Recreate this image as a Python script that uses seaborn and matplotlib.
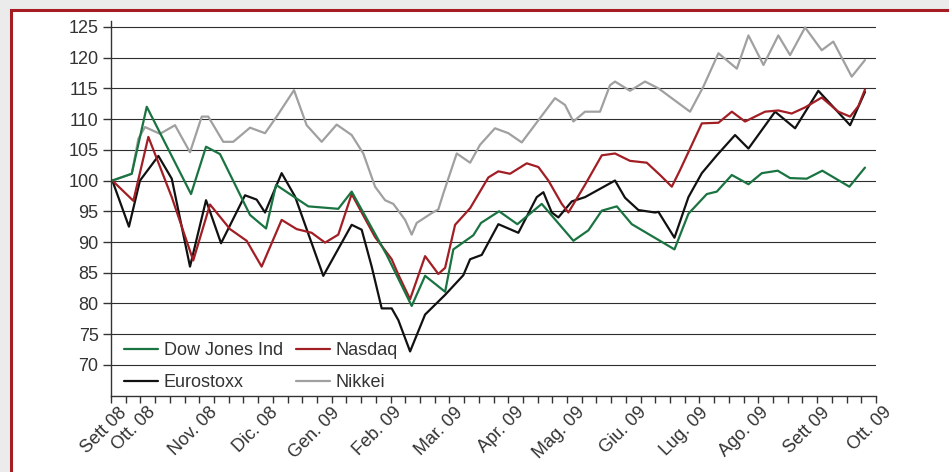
import pandas as pd
import seaborn as sns
import matplotlib.pyplot as plt
from matplotlib.patches import Rectangle
from matplotlib.transforms import ScaledTranslation

# x in weeks from mid-September 2008, values rebased to 100
dj_x = [0.09, 1.41, 2.43, 5.44, 6.46, 7.41, 9.45, 10.54, 11.22, 13.41, 15.45, 16.36, 18.74, 20.44,
        21.35, 22.71, 23.27, 24.63, 25.15, 26.38, 27.62, 29.28, 31.43, 32.45, 33.36, 34.38, 35.40,
        38.30, 39.25, 40.50, 41.18, 42.20, 43.33, 44.24, 45.32, 46.16, 47.29, 48.35, 50.19, 51.25]
dj_y = [100, 101.1, 112.0, 97.8, 105.5, 104.3, 94.4, 92.2, 99.3, 95.8, 95.4, 98.2, 87.9, 79.6,
        84.5, 81.9, 88.8, 91.1, 93.1, 95.0, 92.9, 96.2, 90.2, 91.9, 95.1, 95.8, 92.9,
        88.8, 94.6, 97.8, 98.2, 100.9, 99.4, 101.2, 101.6, 100.4, 100.3, 101.6, 99.0, 102.1]

nq_x = [0.09, 1.52, 2.54, 4.13, 5.59, 6.73, 8.09, 9.22, 10.24, 11.60, 12.62, 13.64, 14.55, 15.45,
        16.36, 17.95, 19.08, 19.53, 20.33, 21.35, 22.25, 22.71, 23.39, 24.41, 25.65, 26.33, 27.12,
        28.26, 29.05, 29.73, 30.64, 31.09, 32.22, 33.36, 34.26, 35.28, 36.42, 37.32, 38.12, 38.68,
        40.16, 41.29, 42.20, 43.10, 44.46, 45.36, 46.27, 47.18, 48.31, 49.44, 50.24, 50.80, 51.25]
nq_y = [100, 96.7, 107.1, 97.3, 87.0, 96.1, 92.1, 90.2, 86.0, 93.6, 92.1, 91.5, 89.9, 91.2,
        97.8, 90.8, 87.2, 84.7, 80.7, 87.7, 84.8, 85.8, 92.8, 95.5, 100.5, 101.5, 101.1,
        102.8, 102.2, 100.0, 96.2, 94.8, 99.3, 104.1, 104.4, 103.2, 102.9, 100.9, 99.0, 101.7,
        109.3, 109.4, 111.2, 109.6, 111.2, 111.4, 110.9, 111.9, 113.5, 111.2, 110.4, 112.1, 114.8]

es_x = [0.09, 1.22, 1.97, 3.22, 4.13, 5.37, 6.46, 7.48, 9.11, 9.90, 10.47, 11.60, 12.51, 14.43,
        16.36, 17.04, 17.72, 18.40, 19.08, 19.53, 20.33, 21.35, 22.71, 23.95, 24.41, 25.20, 26.33,
        27.69, 28.94, 29.39, 29.96, 30.41, 31.32, 32.22, 34.26, 34.94, 35.85, 36.98, 37.21, 38.30,
        39.25, 40.16, 41.18, 42.42, 43.33, 45.14, 46.50, 48.08, 50.24, 51.25]
es_y = [100, 92.5, 100.0, 104.0, 100.3, 86.0, 96.8, 89.8, 97.6, 96.9, 94.8, 101.2, 97.4, 84.5,
        92.8, 92.0, 86.0, 79.2, 79.2, 77.3, 72.2, 78.2, 81.4, 84.6, 87.2, 87.9, 92.9,
        91.5, 97.3, 98.1, 94.8, 94.0, 96.6, 97.3, 100.0, 97.2, 95.2, 94.8, 94.9, 90.7,
        97.3, 101.2, 104.1, 107.4, 105.2, 111.2, 108.5, 114.6, 109.0, 114.4]

nk_x = [0.09, 1.41, 1.86, 2.31, 3.33, 4.35, 5.37, 6.17, 6.61, 7.63, 8.31, 9.45, 10.47, 11.26,
        12.44, 13.30, 14.32, 15.34, 16.36, 17.15, 17.95, 18.63, 19.19, 19.99, 20.44, 20.78, 21.80,
        22.25, 22.59, 23.50, 24.41, 25.08, 26.10, 27.01, 27.92, 29.05, 30.18, 30.86, 31.43, 32.22,
        33.24, 33.92, 34.26, 35.28, 36.30, 37.21, 39.36, 40.27, 41.29, 42.54, 43.33, 44.35, 45.36,
        46.16, 47.18, 48.31, 49.10, 50.35, 51.25]
nk_y = [100, 101.1, 106.8, 108.7, 107.6, 109.0, 104.6, 110.4, 110.4, 106.3, 106.3, 108.6, 107.7, 110.4,
        114.7, 109.0, 106.3, 109.1, 107.4, 104.4, 99.0, 96.8, 96.2, 93.6, 91.2, 93.1, 94.7,
        95.3, 97.9, 104.4, 102.9, 105.8, 108.5, 107.7, 106.2, 109.8, 113.4, 112.3, 109.6, 111.2,
        111.2, 115.5, 116.1, 114.6, 116.1, 115.0, 111.2, 115.3, 120.7, 118.2, 123.6, 118.8, 123.6,
        120.4, 124.9, 121.2, 122.6, 116.9, 119.6]

month_pos = [0, 2, 6.17, 10.33, 14.5, 18.67, 22.83, 27, 31.17, 35.33, 39.5, 43.67, 47.83, 52]
month_lab = ['Sett 08', 'Ott. 08', 'Nov. 08', 'Dic. 08', 'Gen. 09', 'Feb. 09', 'Mar. 09',
             'Apr. 09', 'Mag. 09', 'Giu. 09', 'Lug. 09', 'Ago. 09', 'Sett 09', 'Ott. 09']

sns.set_style('ticks')
plt.rcParams['font.family'] = ['Liberation Sans', 'DejaVu Sans']
txt = '#333333'

fig = plt.figure(figsize=(9.49, 4.72), dpi=100)
fig.patch.set_facecolor('#ebebeb')
fig.add_artist(Rectangle((11 / 949, -0.1), 1.2, (472 - 9.5) / 472 + 0.1, transform=fig.transFigure,
                         facecolor='white', edgecolor='#a51d22', lw=2.2, zorder=-5))
ax = fig.add_axes([111 / 949, 1 - 395.7 / 472, 765 / 949, 375 / 472])
ax.patch.set_alpha(0)

series = [('Nikkei', nk_x, nk_y, '#a0a0a0'),
          ('Eurostoxx', es_x, es_y, '#111111'),
          ('Nasdaq', nq_x, nq_y, '#a21e25'),
          ('Dow Jones Ind', dj_x, dj_y, '#1a7442')]
handles = {}
for name, xs, ys, col in series:
    d = pd.DataFrame({'week': xs, 'value': ys})
    sns.lineplot(data=d, x='week', y='value', color=col, linewidth=1.6, sort=False,
                 estimator=None, ax=ax, label=name)
    handles[name] = ax.lines[-1]

ax.set_xlim(0, 52)
ax.set_ylim(65, 126)
ax.set_yticks(range(70, 130, 5))
ax.yaxis.grid(True, color='#2e2e2e', lw=0.8)
ax.set_axisbelow(True)
ax.xaxis.remove_overlapping_locs = False
ax.set_xticks(range(53))
ax.set_xticklabels([])
ax.set_xticks(month_pos, labels=month_lab, minor=True)
ax.tick_params(axis='x', which='major', length=5, width=1, color='#333333')
ax.tick_params(axis='x', which='minor', length=0, pad=6, labelsize=13, labelcolor=txt)
ax.tick_params(axis='y', length=6, width=1, pad=3, labelsize=13, labelcolor=txt, color='#333333')
shift = ScaledTranslation(7 / 100, 0, fig.dpi_scale_trans)
for lbl in ax.get_xticklabels(minor=True):
    lbl.set_rotation(45)
    lbl.set_ha('right')
    lbl.set_rotation_mode('anchor')
    lbl.set_transform(lbl.get_transform() + shift)
ax.set_xlabel('')
ax.set_ylabel('')
for side in ['top', 'right']:
    ax.spines[side].set_visible(False)
for side in ['left', 'bottom']:
    ax.spines[side].set_color('#333333')
    ax.spines[side].set_linewidth(1)

order = ['Dow Jones Ind', 'Eurostoxx', 'Nasdaq', 'Nikkei']
ax.legend(handles=[handles[n] for n in order], labels=order, ncol=2, loc='lower left',
          bbox_to_anchor=(0.003, -0.017), frameon=False, fontsize=13, labelcolor=txt,
          handlelength=1.9, handletextpad=0.3, columnspacing=0.7, labelspacing=0.85,
          borderpad=0.3, borderaxespad=0.3)

fig.savefig('out.png', dpi=100)
